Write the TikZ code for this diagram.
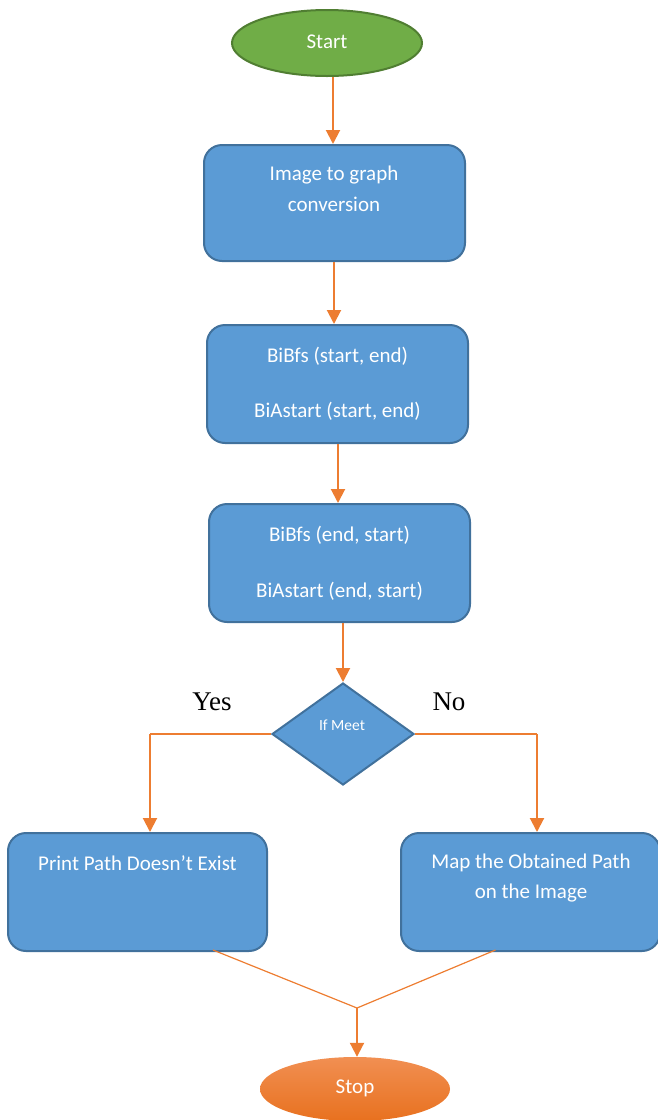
\documentclass[tikz,border=0pt]{standalone}
\usepackage{fontspec}
\setmainfont{Carlito}
\newfontfamily\timesfont{Liberation Serif}
\usetikzlibrary{shapes.geometric,arrows.meta}
\definecolor{boxblue}{HTML}{5B9BD5}
\definecolor{boxedge}{HTML}{41719C}
\definecolor{arrorange}{HTML}{ED7D31}
\definecolor{startgreen}{HTML}{70AD47}
\definecolor{startedge}{HTML}{507E32}
\definecolor{stoptop}{HTML}{F18F52}
\definecolor{stopbot}{HTML}{E8711F}
\begin{document}
\begin{tikzpicture}[x=1pt,y=-1pt,
  procbox/.style={draw=boxedge, line width=2pt, fill=boxblue, rounded corners=18pt, inner sep=0pt},
  boxtext/.style={text=white, font=\fontsize{21}{24}\selectfont, inner sep=0pt, anchor=center},
  flow/.style={draw=arrorange, line width=2pt, -{Triangle[length=14pt,width=14pt]}},
  thinline/.style={draw=arrorange, line width=1.2pt},
  yntext/.style={font=\timesfont\fontsize{27}{30}\selectfont, inner sep=0pt}]
\useasboundingbox (0,0) rectangle (657,1120);

% terminals
\node[ellipse, draw=startedge, line width=2pt, fill=startgreen, minimum width=190pt, minimum height=66pt, inner sep=0pt] (start) at (327,43) {};
\node[boxtext] (starttxt) at (327,42) {Start};

% process boxes
\node[procbox, minimum width=261pt, minimum height=116pt] (b1) at (334.5,203) {};
\node[boxtext] (b1t1) at (334,175) {Image to graph};
\node[boxtext] (b1t2) at (334,204) {conversion};

\node[procbox, minimum width=261pt, minimum height=118pt] (b2) at (337.5,384) {};
\node[boxtext] (b2t1) at (337.5,356) {BiBfs (start, end)};
\node[boxtext] (b2t2) at (337.5,411) {BiAstart (start, end)};

\node[procbox, minimum width=261pt, minimum height=118pt] (b3) at (339.5,563) {};
\node[boxtext] (b3t1) at (339.5,535) {BiBfs (end, start)};
\node[boxtext] (b3t2) at (339.5,591) {BiAstart (end, start)};

% decision
\node[diamond, draw=boxedge, line width=2pt, fill=boxblue, minimum width=142pt, minimum height=102pt, inner sep=0pt] (dia) at (343,734) {};
\node[text=white, font=\fontsize{15.5}{18}\selectfont, inner sep=0pt] (diat) at (342,725) {If Meet};

\node[yntext] (yes) at (212,702) {Yes};
\node[yntext] (no) at (449,702) {No};

\node[procbox, minimum width=259pt, minimum height=118pt] (b4) at (137.5,892) {};
\node[boxtext] (b4t1) at (137.5,863) {Print Path Doesn’t Exist};

\node[procbox, minimum width=259pt, minimum height=118pt] (b5) at (530.5,892) {};
\node[boxtext] (b5t1) at (531,863) {Map the Obtained Path};
\node[boxtext] (b5t2) at (531,893) {on the Image};

\node[ellipse, top color=stoptop, bottom color=stopbot, draw=none, minimum width=190pt, minimum height=64pt, inner sep=0pt] (stop) at (355,1089) {};
\node[boxtext] (stopt) at (355,1088) {Stop};

% connectors
\draw[flow] ([xshift=6pt]start.south) -- ([xshift=-1.5pt]b1.north);
\draw[flow] ([xshift=-0.5pt]b1.south) -- ([xshift=-3.5pt]b2.north);
\draw[flow] ([xshift=0.5pt]b2.south) -- ([xshift=-1.5pt]b3.north);
\draw[flow] ([xshift=3.5pt]b3.south) -- (dia.north);

\coordinate (yl) at (150,734);
\coordinate (nr) at (537,734);
\draw[thinline] (dia.west) -- (yl);
\draw[flow] (yl) -- ([xshift=12.5pt]b4.north);
\draw[thinline] (dia.east) -- (nr);
\draw[flow] (nr) -- ([xshift=6.5pt]b5.north);

\coordinate (j) at (357,1008);
\draw[thinline] ([xshift=75.5pt,yshift=2pt]b4.south) -- (j);
\draw[thinline] ([xshift=-35pt,yshift=2pt]b5.south) -- (j);
\draw[flow] (j) -- ([xshift=2pt]stop.north);
\end{tikzpicture}
\end{document}
